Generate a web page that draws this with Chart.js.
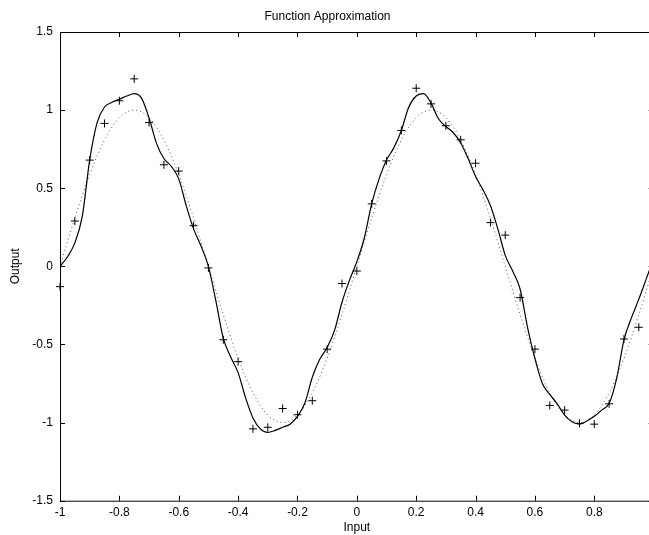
<!DOCTYPE html>
<html>
<head>
<title>Function Approximation</title>
<script src="https://cdn.jsdelivr.net/npm/chart.js"></script>
<style>
  html, body { margin: 0; padding: 0; background: #fff; }
  #wrap { width: 649px; height: 535px; overflow: hidden; position: relative; }
  #box { width: 662px; height: 535px; }
</style>
</head>
<body>
<div id="wrap"><div id="box"><canvas id="myChart"></canvas></div></div>

<script>
// training samples (+)
const inputs = [-1, -0.95, -0.9, -0.85, -0.8, -0.75, -0.7, -0.65, -0.6, -0.55,
  -0.5, -0.45, -0.4, -0.35, -0.3, -0.25, -0.2, -0.15, -0.1, -0.05,
  0, 0.05, 0.1, 0.15, 0.2, 0.25, 0.3, 0.35, 0.4, 0.45,
  0.5, 0.55, 0.6, 0.65, 0.7, 0.75, 0.8, 0.85, 0.9, 0.95];
const targets = [-0.13, 0.29, 0.68, 0.915, 1.06, 1.2, 0.92, 0.65, 0.61, 0.26,
  -0.01, -0.47, -0.61, -1.04, -1.03, -0.91, -0.95, -0.86, -0.53, -0.11,
  -0.03, 0.4, 0.675, 0.87, 1.14, 1.04, 0.9, 0.81, 0.66, 0.28,
  0.2, -0.2, -0.53, -0.89, -0.92, -1.005, -1.01, -0.88, -0.465, -0.39];

// underlying function (dotted)
const funcX = [-1, -0.95, -0.9, -0.85, -0.8, -0.75, -0.7, -0.65, -0.6, -0.55,
  -0.5, -0.45, -0.4, -0.35, -0.3, -0.25, -0.2, -0.15, -0.1, -0.05,
  0, 0.05, 0.1, 0.15, 0.2, 0.25, 0.3, 0.35, 0.4, 0.45,
  0.5, 0.55, 0.6, 0.65, 0.7, 0.75, 0.8, 0.85, 0.9, 0.95, 1];
const funcY = [0, 0.309, 0.588, 0.809, 0.951, 1, 0.951, 0.809, 0.588, 0.309,
  0, -0.309, -0.588, -0.809, -0.951, -1, -0.951, -0.809, -0.588, -0.309,
  0, 0.309, 0.588, 0.809, 0.951, 1, 0.951, 0.809, 0.588, 0.309,
  0, -0.309, -0.588, -0.809, -0.951, -1, -0.951, -0.809, -0.588, -0.309, 0];

// network response (solid)
const netX = [-1, -0.975, -0.95, -0.925, -0.9, -0.875, -0.85, -0.825, -0.8, -0.775,
  -0.75, -0.725, -0.7, -0.675, -0.65, -0.625, -0.6, -0.575, -0.55, -0.525,
  -0.5, -0.475, -0.45, -0.425, -0.4, -0.375, -0.35, -0.325, -0.3, -0.275,
  -0.25, -0.225, -0.2, -0.175, -0.15, -0.125, -0.1, -0.075, -0.05, -0.025,
  0, 0.025, 0.05, 0.075, 0.1, 0.125, 0.15, 0.175, 0.2, 0.225,
  0.25, 0.275, 0.3, 0.325, 0.35, 0.375, 0.4, 0.425, 0.45, 0.475,
  0.5, 0.525, 0.55, 0.575, 0.6, 0.625, 0.65, 0.675, 0.7, 0.725,
  0.75, 0.775, 0.8, 0.825, 0.85, 0.875, 0.9, 0.925, 0.95, 0.975, 1];
const netY = [0, 0.06, 0.15, 0.32, 0.68, 0.92, 1.02, 1.05, 1.07, 1.09,
  1.105, 1.075, 0.95, 0.787, 0.69, 0.64, 0.56, 0.39, 0.24, 0.13,
  0, -0.22, -0.46, -0.58, -0.68, -0.84, -0.97, -1.04, -1.063, -1.05,
  -1.03, -1.01, -0.96, -0.875, -0.71, -0.595, -0.52, -0.41, -0.23, -0.09,
  0.03, 0.18, 0.4, 0.56, 0.68, 0.76, 0.87, 1.02, 1.09, 1.105,
  1.045, 0.945, 0.895, 0.855, 0.79, 0.69, 0.575, 0.49, 0.39, 0.24,
  0.07, -0.03, -0.145, -0.39, -0.59, -0.75, -0.82, -0.88, -0.952, -0.995,
  -1.01, -0.99, -0.96, -0.92, -0.877, -0.72, -0.47, -0.33, -0.21, -0.08, 0.05];

const xTicks = [-1, -0.8, -0.6, -0.4, -0.2, 0, 0.2, 0.4, 0.6, 0.8, 1];
const yTicks = [-1.5, -1, -0.5, 0, 0.5, 1, 1.5];

function pts(xs, ys) {
  return xs.map((v, i) => ({ x: v, y: ys[i] }));
}

// matlab style box with inward ticks
const boxTicks = {
  id: 'boxTicks',
  afterDraw(chart) {
    const ctx = chart.ctx;
    const a = chart.chartArea;
    const sx = chart.scales.x, sy = chart.scales.y;
    ctx.save();
    ctx.strokeStyle = '#000';
    ctx.lineWidth = 1;
    ctx.strokeRect(a.left + 0.5, a.top + 0.5, a.right - a.left, a.bottom - a.top);
    ctx.beginPath();
    xTicks.forEach(v => {
      const p = Math.round(sx.getPixelForValue(v)) + 0.5;
      ctx.moveTo(p, a.bottom); ctx.lineTo(p, a.bottom - 5);
      ctx.moveTo(p, a.top); ctx.lineTo(p, a.top + 5);
    });
    yTicks.forEach(v => {
      const p = Math.round(sy.getPixelForValue(v)) + 0.5;
      ctx.moveTo(a.left, p); ctx.lineTo(a.left + 5, p);
      ctx.moveTo(a.right, p); ctx.lineTo(a.right - 5, p);
    });
    ctx.stroke();
    ctx.restore();
  }
};

Chart.defaults.font.family = '"Liberation Sans", Arial, sans-serif';
Chart.defaults.font.size = 12;
Chart.defaults.color = '#000';

const ctx = document.getElementById('myChart').getContext('2d');
const myChart = new Chart(ctx, {
  type: 'scatter',
  data: {
    datasets: [
      {
        label: 'Targets',
        data: pts(inputs, targets),
        pointStyle: 'cross',
        pointRadius: 4,
        borderColor: '#000',
        borderWidth: 1,
        showLine: false,
        clip: false
      },
      {
        label: 'Network',
        data: pts(netX, netY),
        showLine: true,
        borderColor: '#000',
        borderWidth: 1.2,
        pointRadius: 0,
        cubicInterpolationMode: 'monotone'
      },
      {
        label: 'Function',
        data: pts(funcX, funcY),
        showLine: true,
        borderColor: '#555',
        borderWidth: 1,
        borderDash: [1, 3],
        pointRadius: 0,
        cubicInterpolationMode: 'monotone'
      }
    ]
  },
  options: {
    responsive: true,
    maintainAspectRatio: false,
    animation: false,
    layout: { padding: { left: 0, right: 7, top: 0, bottom: 0 } },
    plugins: {
      legend: { display: false },
      tooltip: { enabled: false },
      title: {
        display: true,
        text: 'Function Approximation',
        font: { size: 12, weight: 'normal' },
        padding: { top: 9, bottom: 8.6 }
      }
    },
    scales: {
      x: {
        type: 'linear',
        min: -1, max: 1,
        afterBuildTicks: s => { s.ticks = xTicks.map(v => ({ value: v })); },
        afterFit: s => { s.height = 34.3; },
        grid: { display: false, drawTicks: false },
        border: { display: false },
        ticks: {
          padding: 5,
          maxRotation: 0,
          autoSkip: false,
          callback: v => String(Math.round(v * 10) / 10)
        },
        title: { display: true, text: 'Input', padding: 0 }
      },
      y: {
        type: 'linear',
        min: -1.5, max: 1.5,
        afterBuildTicks: s => { s.ticks = yTicks.map(v => ({ value: v })); },
        afterFit: s => { s.width = 60; },
        grid: { display: false, drawTicks: false },
        border: { display: false },
        ticks: {
          padding: 7,
          autoSkip: false,
          callback: v => String(Math.round(v * 10) / 10)
        },
        title: { display: true, text: 'Output', padding: { top: 8, bottom: 0 } }
      }
    }
  },
  plugins: [boxTicks]
});
</script>
</body>
</html>
